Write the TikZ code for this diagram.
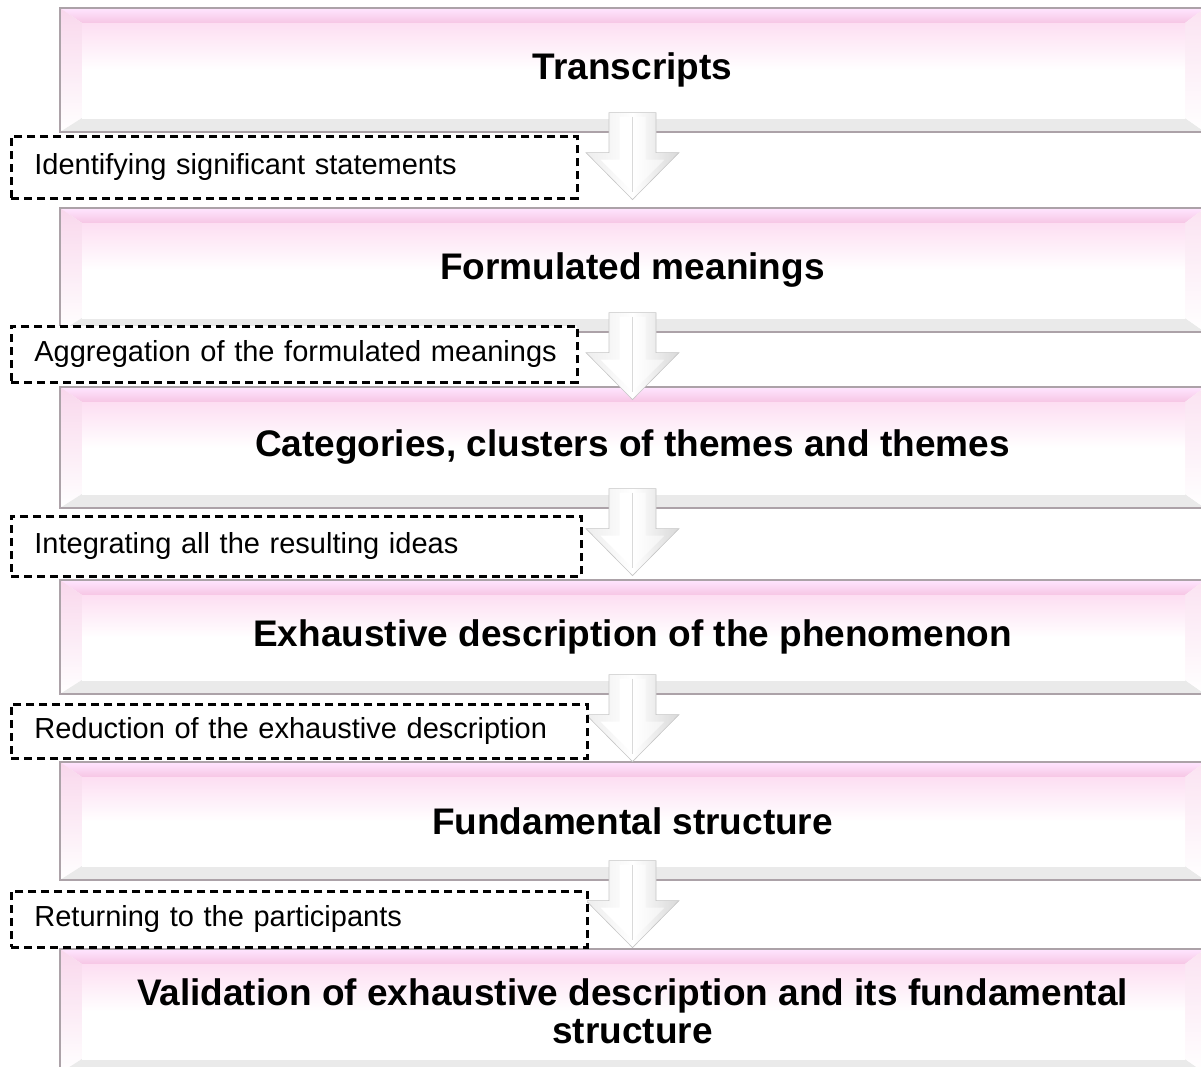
\documentclass[tikz,border=0pt]{standalone}
\usepackage{fontspec}
\setmainfont{Liberation Sans}
\usetikzlibrary{calc}
\definecolor{bevelpink}{RGB}{246,198,228}
\definecolor{facepink}{RGB}{253,222,242}
\definecolor{edgegray}{RGB}{172,162,168}
\definecolor{bevelgray}{RGB}{234,234,234}
\tikzset{
  mainbox/.style={draw=edgegray, line width=1.2pt, minimum width=1145pt, inner sep=0pt,
    font=\fontsize{37}{38}\selectfont\bfseries, align=center, fill=white,
    path picture={
      \path (path picture bounding box.north west) coordinate (pnw)
            (path picture bounding box.north east) coordinate (pne)
            (path picture bounding box.south west) coordinate (psw)
            (path picture bounding box.south east) coordinate (pse);
      \coordinate (inw) at ([xshift=22pt,yshift=-15pt]pnw);
      \coordinate (ine) at ([xshift=-20pt,yshift=-15pt]pne);
      \coordinate (isw) at ([xshift=22pt,yshift=14pt]psw);
      \coordinate (ise) at ([xshift=-20pt,yshift=14pt]pse);
      \shade[top color=bevelpink!115!black!95, bottom color=bevelpink] (pnw)--(pne)--(ine)--(inw)--cycle;
      \shade[top color=bevelpink!70, bottom color=white] (pnw)--(inw)--(isw)--(psw)--cycle;
      \fill[bevelgray] (psw)--(isw)--(ise)--(pse)--cycle;
      \shade[top color=bevelpink!50, bottom color=white] (pne)--(ine)--(ise)--(pse)--cycle;
      \shade[top color=facepink, bottom color=white, middle color=white] (inw) rectangle (ise);
    }},
  dashbox/.style={draw=black, fill=white, line width=2.8pt, dash pattern=on 8pt off 5pt,
    font=\fontsize{29}{32}\selectfont, anchor=north west, inner xsep=23pt, inner ysep=0pt, align=left},
  arrowouter/.style={left color=gray!14, right color=gray!30, middle color=white, draw=gray!45, line width=0.6pt},
  arrowinner/.style={left color=white, right color=gray!10, middle color=white},
}
\newcommand{\bevelarrow}[2]{%
  \coordinate (#1t) at ($(#1.south)+(0,-20)$);
  \path[arrowouter] ($(#1t)+(-23.5,0)$) -- ($(#1t)+(23.5,0)$) -- ($(#1t)+(23.5,40)$) -- ($(#1t)+(46.5,40)$) -- ($(#1t)+(0,87)$) coordinate (#1tip) -- ($(#1t)+(-46.5,40)$) -- ($(#1t)+(-23.5,40)$) -- cycle;
  \path[arrowinner] ($(#1t)+(-13,4)$) -- ($(#1t)+(13,4)$) -- ($(#1t)+(13,47)$) -- ($(#1t)+(32,47)$) -- ($(#1t)+(0,79)$) -- ($(#1t)+(-32,47)$) -- ($(#1t)+(-13,47)$) -- cycle;
  \draw[gray!30, line width=0.5pt] ($(#1t)+(0,4)$) -- ($(#1t)+(0,79)$);
}
\begin{document}
\begin{tikzpicture}[x=1pt,y=-1pt]
\useasboundingbox (0,0) rectangle (1201,1066);
\node[mainbox, minimum height=124pt] (b1) at (632.5,70) {Transcripts};
\node[mainbox, minimum height=124pt] (b2) at (632.5,270) {Formulated meanings};
\node[mainbox, minimum height=121pt] (b3) at (632.5,447.5) {Categories, clusters of themes and themes};
\node[mainbox, minimum height=114pt] (b4) at (632.5,637) {Exhaustive description of the phenomenon};
\node[mainbox, minimum height=118pt] (b5) at (632.5,821) {Fundamental structure};
\node[mainbox, minimum height=124pt] (b6) at (632.5,1011) {Validation of exhaustive description and its fundamental\\structure};
\bevelarrow{b1}{b2}
\bevelarrow{b2}{b3}
\bevelarrow{b3}{b4}
\bevelarrow{b4}{b5}
\bevelarrow{b5}{b6}
\node[dashbox, minimum width=566pt, minimum height=62pt, text width=520pt] (d1) at (10,135) {\mbox{Identifying significant statements}};
\node[dashbox, minimum width=566pt, minimum height=56pt, text width=520pt] (d2) at (10,325) {\mbox{Aggregation of the formulated meanings}};
\node[dashbox, minimum width=570pt, minimum height=60pt, text width=524pt] (d3) at (10,515) {\mbox{Integrating all the resulting ideas}};
\node[dashbox, minimum width=576pt, minimum height=54pt, text width=530pt] (d4) at (10,703) {\mbox{Reduction of the exhaustive description}};
\node[dashbox, minimum width=576pt, minimum height=56pt, text width=530pt] (d5) at (10,890) {\mbox{Returning to the participants}};
\end{tikzpicture}
\end{document}
